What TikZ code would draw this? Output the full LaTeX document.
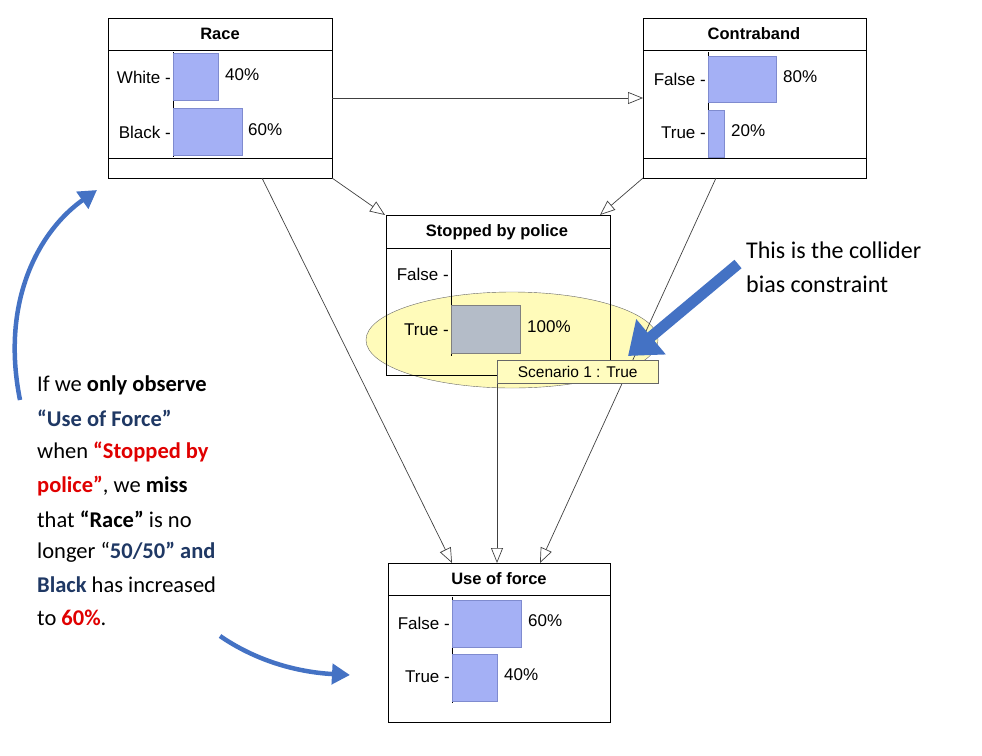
\documentclass[tikz,border=0pt]{standalone}
\usepackage{fontspec}
\setmainfont{Carlito}
\newfontfamily\arial{Liberation Sans}
\usetikzlibrary{arrows.meta}
\definecolor{barblue}{HTML}{A4B0F5}
\definecolor{barbd}{HTML}{7F8BCF}
\definecolor{graybar}{HTML}{B4BCC8}
\definecolor{dblue}{HTML}{1F3864}
\definecolor{arrblue}{HTML}{4472C4}
\definecolor{myred}{HTML}{E00000}
\begin{document}
\begin{tikzpicture}[x=1pt,y=-1pt,
  box/.style={draw,line width=0.9pt,fill=white},
  bar/.style={draw=barbd,fill=barblue},
  lab/.style={font=\arial\fontsize{17}{19}\selectfont,anchor=east,inner sep=0},
  pct/.style={font=\arial\fontsize{17}{19}\selectfont,anchor=west,inner sep=0},
  ttl/.style={font=\arial\bfseries\fontsize{16.5}{18}\selectfont},
  con/.style={draw=black!75,line width=0.7pt,-{Triangle[open,length=15pt,width=12pt]}},
  ann/.style={font=\fontsize{22.5}{24}\selectfont,anchor=west,inner sep=0}]
\useasboundingbox (0,0) rectangle (982,755);
% Race
\node[box,minimum width=224pt,minimum height=160pt,anchor=north west,inner sep=0] (race) at (108,18) {};
\draw (108,50) -- (332,50); \draw (108,158) -- (332,158);
\node[ttl] (raceT) at (220,34) {Race};
\draw (173,52) -- (173,157);
\draw[bar] (173,53) rectangle (218,100); \draw[bar] (173,108) rectangle (242,155);
\node[lab] (rw) at (171,77) {White -}; \node[pct] (rwp) at (225,75) {40\%};
\node[lab] (rb) at (171,132) {Black -}; \node[pct] (rbp) at (248,130) {60\%};
% Contraband
\node[box,minimum width=223pt,minimum height=160pt,anchor=north west,inner sep=0] (cb) at (643,18) {};
\draw (643,50) -- (866,50); \draw (643,158) -- (866,158);
\node[ttl] (cbT) at (754,34) {Contraband};
\draw (708,52) -- (708,157);
\draw[bar] (708,56) rectangle (776,102); \draw[bar] (708,110) rectangle (724,157);
\node[lab] (cf) at (706,79) {False -}; \node[pct] (cfp) at (783,77) {80\%};
\node[lab] (ct) at (706,133) {True -}; \node[pct] (ctp) at (731,131) {20\%};
% Stopped (with ellipse behind contents)
\fill[white] (386,215) rectangle (610,375);
\fill[yellow!45,opacity=0.6] (512,340) ellipse (146pt and 48pt);
\draw[black!60] (512,340) ellipse (146pt and 48pt);
\node[draw,line width=0.9pt,minimum width=224pt,minimum height=160pt,anchor=north west,inner sep=0] (sp) at (386,215) {};
\draw (386,248) -- (610,248);
\node[ttl] (spT) at (497,232) {Stopped by police};
\draw (451,250) -- (451,356);
\draw[draw=gray,fill=graybar] (451,305) rectangle (520,353);
\node[lab] (sf) at (449,274) {False -}; \node[pct] (sfp) at (527,327) {100\%};
\node[lab] (st) at (449,330) {True -};
% Use of force
\node[box,minimum width=222pt,minimum height=159pt,anchor=north west,inner sep=0] (uf) at (388,563) {};
\draw (388,595) -- (610,595);
\node[ttl] (ufT) at (499,579) {Use of force};
\draw (452,597) -- (452,703);
\draw[bar] (452,600) rectangle (521,647); \draw[bar] (452,654) rectangle (497,701);
\node[lab] (uff) at (450,623) {False -}; \node[pct] (uffp) at (528,621) {60\%};
\node[lab] (uft) at (450,677) {True -}; \node[pct] (uftp) at (504,675) {40\%};
% connectors
\coordinate (a1) at (332,98); \coordinate (a2) at (643,98);
\draw[con] (a1) -- (a2);
\draw[con] (332,178) -- (385,215);
\draw[con] (643,178) -- (600,215);
\draw[con] (262,178) -- (452,563);
\draw[con] (497,383) -- (497,563);
\draw[con] (716,178) -- (540,563);
% tooltip
\node[draw=black!60,fill=yellow!25,anchor=north west,minimum width=161pt,minimum height=23pt,inner sep=0,font=\arial\fontsize{15.5}{17}\selectfont] (tip) at (497,360) {Scenario 1 : True};
% big arrow
\coordinate (ba1) at (738,264); \coordinate (ba2) at (628,356);
\draw[arrblue,line width=11pt,-{Triangle[length=30pt,width=44pt]}] (ba1) -- (ba2);
\node[ann,font=\fontsize{24}{34}\selectfont,align=left,anchor=north west] (coll) at (746,242) {This is the collider\\bias constraint};
% curved arrows
\draw[arrblue,line width=4.5pt,-{Triangle[length=18pt,width=20pt]}] (20,400) .. controls (0,300) and (40,230) .. (97,190);
\draw[arrblue,line width=4.5pt,-{Triangle[length=18pt,width=20pt]}] (220,636) .. controls (255,660) and (295,672) .. (350,675);
% left text
\node[ann] (t1) at (37,385) {If we \textbf{only observe}};
\node[ann] (t2) at (37,418) {\textbf{\color{dblue}“Use of Force”}};
\node[ann] (t3) at (37,452) {when \textbf{\color{myred}“Stopped by}};
\node[ann] (t4) at (37,486) {\textbf{\color{myred}police”}, we \textbf{miss}};
\node[ann] (t5) at (37,519) {that \textbf{“Race”} is no};
\node[ann] (t6) at (37,552) {longer “\textbf{\color{dblue}50/50” and}};
\node[ann] (t7) at (37,585) {\textbf{\color{dblue}Black} has increased};
\node[ann] (t8) at (37,618) {to \textbf{\color{myred}60\%}.};
\end{tikzpicture}
\end{document}
